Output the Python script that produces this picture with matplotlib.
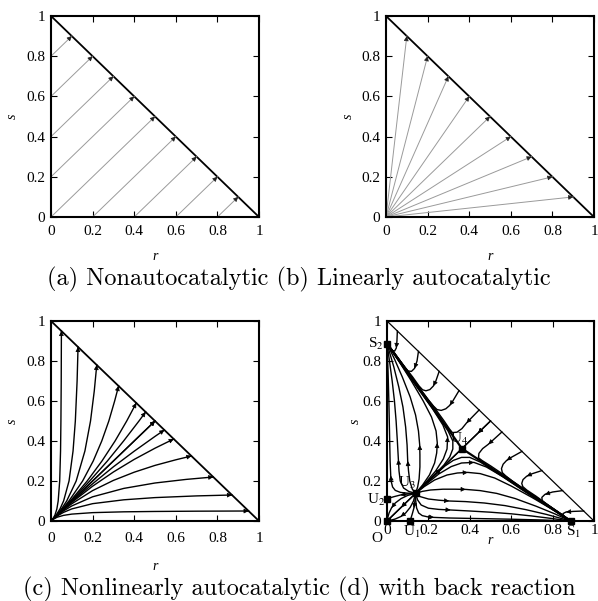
import matplotlib.pyplot as plt
import numpy as np

plt.rcParams['font.family'] = ['Liberation Serif', 'DejaVu Serif']
plt.rcParams['mathtext.fontset'] = 'stix'

ticks = [0, 0.2, 0.4, 0.6, 0.8, 1]
tick_labels = ['0', '0.2', '0.4', '0.6', '0.8', '1']

# (a) nonautocatalytic: straight paths at 45 degrees
a_r0 = [0, 0, 0, 0, 0, 0.2, 0.4, 0.6, 0.8]
a_s0 = [0.8, 0.6, 0.4, 0.2, 0, 0, 0, 0, 0]
a_r1 = [0.1, 0.2, 0.3, 0.4, 0.5, 0.6, 0.7, 0.8, 0.9]
a_s1 = [0.9, 0.8, 0.7, 0.6, 0.5, 0.4, 0.3, 0.2, 0.1]

# (b) linearly autocatalytic: rays out of the origin
b_r1 = [0.1, 0.2, 0.3, 0.4, 0.5, 0.6, 0.7, 0.8, 0.9]
b_s1 = [0.9, 0.8, 0.7, 0.6, 0.5, 0.4, 0.3, 0.2, 0.1]

# (c) nonlinearly autocatalytic, half below r = s (figure is mirror symmetric)
c_curves = [
    [(0, 0), (0.01, 0.0084), (0.03, 0.0191), (0.06, 0.0281), (0.1, 0.0345), (0.2, 0.0418),
     (0.35, 0.0459), (0.5, 0.0477), (0.7, 0.0491), (0.95, 0.05)],
    [(0, 0), (0.01, 0.0094), (0.03, 0.0251), (0.06, 0.0431), (0.1, 0.0605), (0.2, 0.0867),
     (0.35, 0.106), (0.5, 0.117), (0.7, 0.1255), (0.87, 0.13)],
    [(0, 0), (0.01, 0.0097), (0.03, 0.0273), (0.06, 0.0502), (0.1, 0.0754), (0.2, 0.121),
     (0.35, 0.163), (0.5, 0.19), (0.65, 0.208), (0.78, 0.22)],
    [(0, 0), (0.03, 0.0286), (0.06, 0.0547), (0.1, 0.0862), (0.2, 0.152), (0.3, 0.203),
     (0.4, 0.244), (0.5, 0.278), (0.6, 0.306), (0.675, 0.325)],
    [(0, 0), (0.03, 0.0293), (0.06, 0.0574), (0.1, 0.0931), (0.2, 0.174), (0.3, 0.245),
     (0.4, 0.308), (0.5, 0.364), (0.59, 0.41)],
    [(0, 0), (0.03, 0.0297), (0.1, 0.0965), (0.2, 0.186), (0.3, 0.271), (0.4, 0.349),
     (0.5, 0.423), (0.545, 0.455)],
    [(0, 0), (0.5, 0.5)],
]

# (d) with back reaction: fixed points
fp_names = ['O', 'U$_1$', 'U$_2$', 'U$_3$', 'U$_4$', 'S$_1$', 'S$_2$']
fp_r = [0, 0.111, 0, 0.138, 0.362, 0.887, 0]
fp_s = [0, 0, 0.111, 0.138, 0.362, 0, 0.887]

# (d) trajectories below r = s, each with the index of its arrow head
d_sep = [(0.362, 0.362), (0.45, 0.302), (0.55, 0.233), (0.65, 0.164), (0.75, 0.095),
         (0.82, 0.047), (0.887, 0)]
d_fan = [
    [(0.138, 0.138), (0.22, 0.218), (0.28, 0.275), (0.32, 0.303), (0.36, 0.318), (0.4, 0.318),
     (0.45, 0.295), (0.55, 0.228), (0.65, 0.16), (0.75, 0.092), (0.887, 0)],
    [(0.138, 0.138), (0.19, 0.185), (0.25, 0.235), (0.31, 0.272), (0.36, 0.29), (0.42, 0.293),
     (0.48, 0.27), (0.56, 0.221), (0.65, 0.158), (0.75, 0.09), (0.887, 0)],
    [(0.138, 0.138), (0.18, 0.172), (0.23, 0.205), (0.29, 0.23), (0.34, 0.24), (0.39, 0.243),
     (0.45, 0.237), (0.52, 0.215), (0.6, 0.175), (0.7, 0.118), (0.8, 0.057), (0.887, 0)],
    [(0.138, 0.138), (0.17, 0.148), (0.21, 0.155), (0.27, 0.159), (0.33, 0.159), (0.38, 0.158),
     (0.45, 0.152), (0.53, 0.138), (0.62, 0.112), (0.72, 0.074), (0.81, 0.036), (0.887, 0)],
    [(0.138, 0.138), (0.16, 0.122), (0.2, 0.11), (0.25, 0.104), (0.3, 0.1), (0.38, 0.097),
     (0.47, 0.09), (0.57, 0.077), (0.67, 0.057), (0.77, 0.033), (0.887, 0)],
    [(0.138, 0.138), (0.148, 0.105), (0.165, 0.08), (0.2, 0.064), (0.25, 0.058), (0.307, 0.055),
     (0.4, 0.05), (0.5, 0.044), (0.6, 0.036), (0.7, 0.025), (0.8, 0.012), (0.887, 0)],
    [(0.138, 0.138), (0.139, 0.1), (0.143, 0.065), (0.153, 0.04), (0.17, 0.027), (0.195, 0.021),
     (0.227, 0.018), (0.3, 0.015), (0.45, 0.012), (0.6, 0.009), (0.75, 0.005), (0.887, 0)],
    [(0.138, 0.138), (0.135, 0.1), (0.13, 0.065), (0.122, 0.035), (0.116, 0.015), (0.111, 0)],
    [(0.138, 0.138), (0.128, 0.1), (0.112, 0.068), (0.09, 0.04), (0.066, 0.022), (0.04, 0.01),
     (0.015, 0.003), (0, 0)],
    [(0.138, 0.138), (0.07, 0.07), (0, 0)],
    [(0.138, 0.138), (0.26, 0.26), (0.362, 0.362)],
    [(0.5, 0.5), (0.44, 0.44), (0.362, 0.362)],
]
d_fan_arrow = [None, 5, 5, 5, 4, 5, 6, 2, 4, 1, 1, 1]
d_edge = [
    [(0.95, 0.05), (0.9, 0.048), (0.865, 0.045), (0.85, 0.037), (0.852, 0.027), (0.868, 0.015),
     (0.887, 0)],
    [(0.848, 0.152), (0.8, 0.145), (0.763, 0.133), (0.748, 0.118), (0.75, 0.102), (0.765, 0.088),
     (0.8, 0.064), (0.845, 0.033), (0.887, 0)],
    [(0.748, 0.252), (0.7, 0.236), (0.675, 0.224), (0.657, 0.207), (0.651, 0.188), (0.656, 0.172),
     (0.675, 0.155), (0.72, 0.124), (0.8, 0.064), (0.887, 0)],
    [(0.652, 0.348), (0.6, 0.318), (0.578, 0.303), (0.561, 0.284), (0.553, 0.262), (0.557, 0.242),
     (0.574, 0.225), (0.605, 0.2), (0.7, 0.133), (0.8, 0.064), (0.887, 0)],
    [(0.555, 0.445), (0.52, 0.412), (0.49, 0.384), (0.462, 0.362), (0.444, 0.338), (0.442, 0.316),
     (0.46, 0.302), (0.5, 0.276), (0.56, 0.234), (0.65, 0.167), (0.75, 0.097), (0.887, 0)],
]
d_edge_arrow = [2, 2, 2, 2, 2]

W, H = 598, 601
fig = plt.figure(figsize=(W / 100, H / 100), dpi=100)


def px_axes(left, top, right, bottom):
    return fig.add_axes([left / W, 1 - bottom / H, (right - left) / W, (bottom - top) / H])


def head(ax, x0, y0, x1, y1, size=8, color='k'):
    d = np.hypot(x1 - x0, y1 - y0)
    bx, by = x1 - 0.012 * (x1 - x0) / d, y1 - 0.012 * (y1 - y0) / d
    ax.annotate('', xy=(x1, y1), xytext=(bx, by),
                arrowprops=dict(arrowstyle='-|>', color=color, lw=0.5,
                                mutation_scale=size, shrinkA=0, shrinkB=0))


def frame(ax, xpad, rdrop, sdrop, hyp_lw=1.3):
    ax.set_xlim(0, 1)
    ax.set_ylim(0, 1)
    ax.set_xticks(ticks)
    ax.set_xticklabels(tick_labels)
    ax.set_yticks(ticks)
    ax.set_yticklabels(tick_labels)
    ax.tick_params(direction='in', top=True, right=True, length=4, width=0.8, labelsize=11)
    ax.tick_params(axis='x', pad=xpad)
    ax.tick_params(axis='y', pad=4)
    for sp in ax.spines.values():
        sp.set_linewidth(1.5)
    ax.plot([0, 1], [1, 0], color='k', lw=hyp_lw)
    ax.annotate('r', xy=(0.5, 0), xycoords='axes fraction', xytext=(0, -rdrop * 0.72),
                textcoords='offset points', ha='center', va='center', style='italic', size=10)
    ax.annotate('s', xy=(0, 0.5), xycoords='axes fraction', xytext=(-sdrop * 0.72, 0),
                textcoords='offset points', ha='center', va='center', style='italic',
                size=10, rotation=90)


# (a)
ax = px_axes(51, 16, 259, 217)
frame(ax, 6, 40, 39)
for r0, s0, r1, s1 in zip(a_r0, a_s0, a_r1, a_s1):
    ax.plot([r0, r1], [s0, s1], color='#9a9a9a', lw=0.7)
    head(ax, r0, s0, r1, s1, size=7, color='#222222')

# (b)
ax = px_axes(386, 16, 594, 217)
frame(ax, 6, 40, 38)
for r1, s1 in zip(b_r1, b_s1):
    ax.plot([0, r1], [0, s1], color='#9a9a9a', lw=0.7)
    head(ax, 0, 0, r1, s1, size=7, color='#222222')

# (c)
ax = px_axes(51, 321, 259, 521)
frame(ax, 8, 45, 39)
for pts in c_curves:
    r = [p[0] for p in pts]
    s = [p[1] for p in pts]
    for x, y in [(r, s), (s, r)]:
        ax.plot(x, y, color='k', lw=1.0)
        head(ax, x[-2], y[-2], x[-1], y[-1], size=7)

# (d)
ax = px_axes(387, 321, 594, 521)
frame(ax, 2.5, 20, 32, hyp_lw=0.9)
for pts, lw in [(d_sep, 1.6)] + [(p, 1.0) for p in d_fan + d_edge]:
    r = [p[0] for p in pts]
    s = [p[1] for p in pts]
    ax.plot(r, s, color='k', lw=lw)
    ax.plot(s, r, color='k', lw=lw)
for pts, k in zip(d_fan + d_edge, d_fan_arrow + d_edge_arrow):
    if k is None:
        continue
    (r0, s0), (r1, s1) = pts[k - 1], pts[k]
    head(ax, r0, s0, r1, s1, size=7)
    head(ax, s0, r0, s1, r1, size=7)
ax.plot(fp_r, fp_s, 's', color='k', ms=4.5, clip_on=False, zorder=5)
lab_kw = dict(ha='center', va='center', size=11, clip_on=False)
ax.text(-0.05, -0.085, fp_names[0], **lab_kw)
ax.text(0.119, -0.053, fp_names[1], **lab_kw)
ax.text(-0.053, 0.105, fp_names[2], **lab_kw)
ax.text(0.095, 0.19, fp_names[3], **lab_kw)
ax.text(0.35, 0.41, fp_names[4], **lab_kw)
ax.text(0.9, -0.053, fp_names[5], **lab_kw)
ax.text(-0.053, 0.885, fp_names[6], **lab_kw)

fig.text(0.5, 1 - 279 / H, '(a) Nonautocatalytic (b) Linearly autocatalytic',
         family='cmr10', size=17.5, ha='center', va='center')
fig.text(0.5, 1 - 589 / H, '(c) Nonlinearly autocatalytic (d) with back reaction',
         family='cmr10', size=17.5, ha='center', va='center')

fig.savefig('out.png', dpi=100)
